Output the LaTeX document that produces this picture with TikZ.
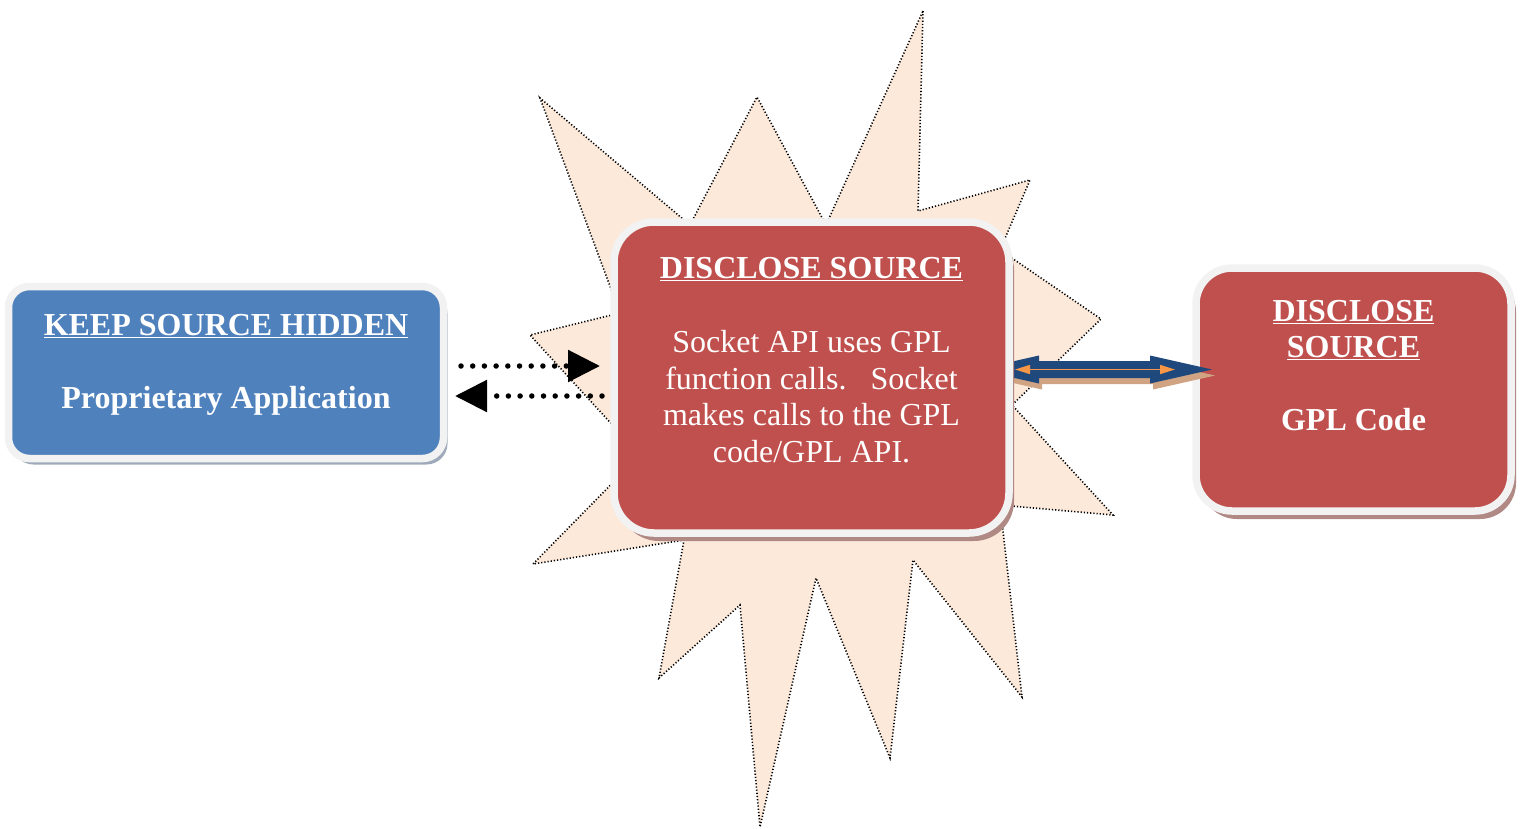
\documentclass[tikz,border=0pt]{standalone}
\usepackage{fontspec}
\setmainfont{Liberation Serif}
\usetikzlibrary{arrows.meta,calc,shadows}
\pgfdeclarelayer{back}
\pgfdeclarelayer{mid}
\pgfsetlayers{back,mid,main}
\definecolor{starfill}{RGB}{252,233,218}
\definecolor{boxblue}{RGB}{79,129,189}
\definecolor{boxred}{RGB}{192,80,77}
\definecolor{rimgray}{RGB}{242,242,242}
\definecolor{blueshadow}{RGB}{158,170,186}
\definecolor{redshadow}{RGB}{176,136,132}
\definecolor{arrowblue}{RGB}{31,73,125}
\definecolor{arrowshadow}{RGB}{208,164,130}
\definecolor{arroworange}{RGB}{247,150,70}
\begin{document}
\begin{tikzpicture}[x=1pt,y=-1pt,
  card/.style={rectangle, draw=rimgray, line width=7.5pt, inner sep=0pt, outer sep=0pt},
  txt/.style={anchor=base, text=white, inner sep=0pt, font=\fontsize{32}{37}\selectfont},
  btxt/.style={txt, font=\fontsize{32}{37}\selectfont\bfseries},
  starline/.style={draw=black, fill=starfill, line width=1.6pt, dash pattern=on 1.2pt off 2pt},
  dotarrow/.style={line width=5.5pt, dash pattern=on 0pt off 11.7pt, line cap=round,
                   -{Triangle[length=32pt,width=31pt]}},
  blockarrow/.style={fill=arrowblue},
  blockshadow/.style={fill=arrowshadow}
]
\useasboundingbox (0,0) rectangle (1525,828);

% ---------- back layer: burst and right box
\begin{pgfonlayer}{back}
\path[starline] (923,11) -- (918,211) -- (1030,180) -- (1000,250) -- (1101,319)
  -- (1012,405) -- (1113,515) -- (1000,505) -- (1022,697) -- (913,560)
  -- (890,758) -- (816,578) -- (760,827) -- (740,605) -- (659,678)
  -- (684,540) -- (533,564) -- (640,455) -- (530,335) -- (620,313)
  -- (540,98) -- (690,225) -- (757,97) -- (826,225) -- cycle;
\node[card, fill=boxred, minimum width=315pt, minimum height=243pt, rounded corners=36pt,
      drop shadow={shadow xshift=5pt, shadow yshift=-8pt, fill=redshadow, opacity=1}]
      (R) at (1353.5,389.5) {};
\end{pgfonlayer}

% ---------- main layer: boxes
\node[card, fill=boxblue, minimum width=435pt, minimum height=172pt, rounded corners=21pt,
      drop shadow={shadow xshift=4pt, shadow yshift=-6pt, fill=blueshadow, opacity=1}]
      (L) at (226,372.5) {};
\node[card, fill=boxred, minimum width=395pt, minimum height=311pt, rounded corners=40pt,
      drop shadow={shadow xshift=5pt, shadow yshift=-8pt, fill=redshadow, opacity=1}]
      (C) at (811.5,377.5) {};

% ---------- mid layer: double block arrow from C to R
\coordinate (aL) at ($(C.east |- 0,369.5)+(-32,0)$);
\coordinate (aR) at ($(R.west |- 0,369.5)+(16,0)$);
\begin{pgfonlayer}{mid}
\path[blockshadow, transform canvas={shift={(3pt,-6pt)}}] (aL) -- ($(aL)+(62,-14)$) -- ($(aL)+(62,-8.5)$) -- ($(aR)+(-62,-8.5)$)
  -- ($(aR)+(-62,-14)$) -- (aR) -- ($(aR)+(-62,14)$) -- ($(aR)+(-62,8.5)$)
  -- ($(aL)+(62,8.5)$) -- ($(aL)+(62,14)$) -- cycle;
\path[blockarrow] (aL) -- ($(aL)+(62,-14)$) -- ($(aL)+(62,-8.5)$) -- ($(aR)+(-62,-8.5)$)
  -- ($(aR)+(-62,-14)$) -- (aR) -- ($(aR)+(-62,14)$) -- ($(aR)+(-62,8.5)$)
  -- ($(aL)+(62,8.5)$) -- ($(aL)+(62,14)$) -- cycle;
\end{pgfonlayer}
\draw[arroworange, line width=1.6pt, {Triangle[length=15pt,width=9pt]}-{Triangle[length=15pt,width=9pt]}]
  ($(aL)+(38,0)$) -- ($(aR)+(-37,0)$);

% ---------- texts
\node[btxt] (Lt) at (226,335) {\underline{KEEP SOURCE HIDDEN}};
\node[btxt] (Lb) at (226,408) {Proprietary Application};

\node[btxt] (Ct) at (811.5,278) {\underline{DISCLOSE SOURCE}};
\node[txt] (C1) at (811.5,352) {Socket API uses GPL};
\node[txt] (C2) at (811.5,389) {function calls.\ \ \ Socket};
\node[txt] (C3) at (811.5,425) {makes calls to the GPL};
\node[txt] (C4) at (811.5,462) {code/GPL API.};

\node[btxt] (Rt1) at (1353.5,321) {\underline{DISCLOSE}};
\node[btxt] (Rt2) at (1353.5,357) {\underline{SOURCE}};
\node[btxt] (Rb) at (1353.5,430) {GPL Code};

% ---------- dotted arrows between L and C
\draw[dotarrow] ($(L.east |- 0,366)+(17.5,0)$) -- ($(C.west |- 0,366)+(-14,0)$);
\draw[dotarrow] ($(C.west |- 0,396)+(-12,0)$) -- ($(L.east |- 0,396)+(11.5,0)$);
\end{tikzpicture}
\end{document}
